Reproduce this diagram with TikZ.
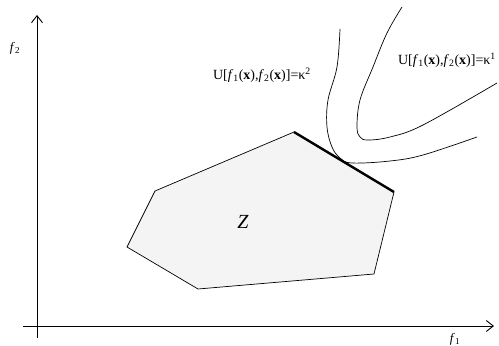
\documentclass[tikz,border=0pt]{standalone}
\usepackage{fontspec}
\setmainfont{Liberation Serif}
\usepackage{xcolor}
\usetikzlibrary{arrows.meta}
\definecolor{cREGION}{HTML}{F4F4F4}

\begin{document}
\begin{tikzpicture}[x=1pt, y=-1pt,
  axis/.style={line width=0.9pt, -{Straight Barb[length=7pt,width=11pt,line width=0.9pt]}},
  curve/.style={line width=0.7pt},
  lbl/.style={font=\fontsize{14}{16}\selectfont, inner sep=0pt},
  axlbl/.style={font=\fontsize{13}{15}\selectfont, inner sep=0pt}]
  \useasboundingbox (0,0) rectangle (499,346);

  % Axes
  \coordinate (yb) at (37,338);
  \coordinate (yt) at (37,15);
  \coordinate (xl) at (23,326);
  \coordinate (xr) at (494,326);
  \draw[axis] (yb) -- (yt);
  \draw[axis] (xl) -- (xr);
  \node[axlbl] (f2) at (15,48) {\textit{f}\textsubscript{2}};
  \node[axlbl] (f1) at (455,339) {\textit{f}\textsubscript{1}};

  % Feasible region Z
  \coordinate (p1) at (294,132);
  \coordinate (p2) at (394,192);
  \coordinate (p3) at (374,274);
  \coordinate (p4) at (198,289);
  \coordinate (p5) at (127,247);
  \coordinate (p6) at (155,191);
  \filldraw[fill=cREGION, line width=0.7pt] (p1) -- (p2) -- (p3) -- (p4) -- (p5) -- (p6) -- cycle;
  \draw[line width=2.4pt] (p1) -- (p2);
  \node[font=\fontsize{20}{24}\selectfont\itshape] (Z) at (243,222) {Z};

  % Level curves of U
  \draw[curve] plot[smooth, tension=0.6] coordinates
    {(340,29) (337,67) (328,100) (327,127) (332,147) (340,158) (352,163) (390,161) (423,155) (477,137)};
  \draw[curve] plot[smooth, tension=0.6] coordinates
    {(402,7) (387,33) (373,67) (360,100) (357,127) (360,137) (368,140) (390,137) (423,125) (497,83)};
  \node[lbl] (k2) at (262,75) {U[\textit{f}\textsubscript{1}(\textbf{x}),\textit{f}\textsubscript{2}(\textbf{x})]=κ\textsuperscript{2}};
  \node[lbl] (k1) at (447,60) {U[\textit{f}\textsubscript{1}(\textbf{x}),\textit{f}\textsubscript{2}(\textbf{x})]=κ\textsuperscript{1}};
\end{tikzpicture}
\end{document}
